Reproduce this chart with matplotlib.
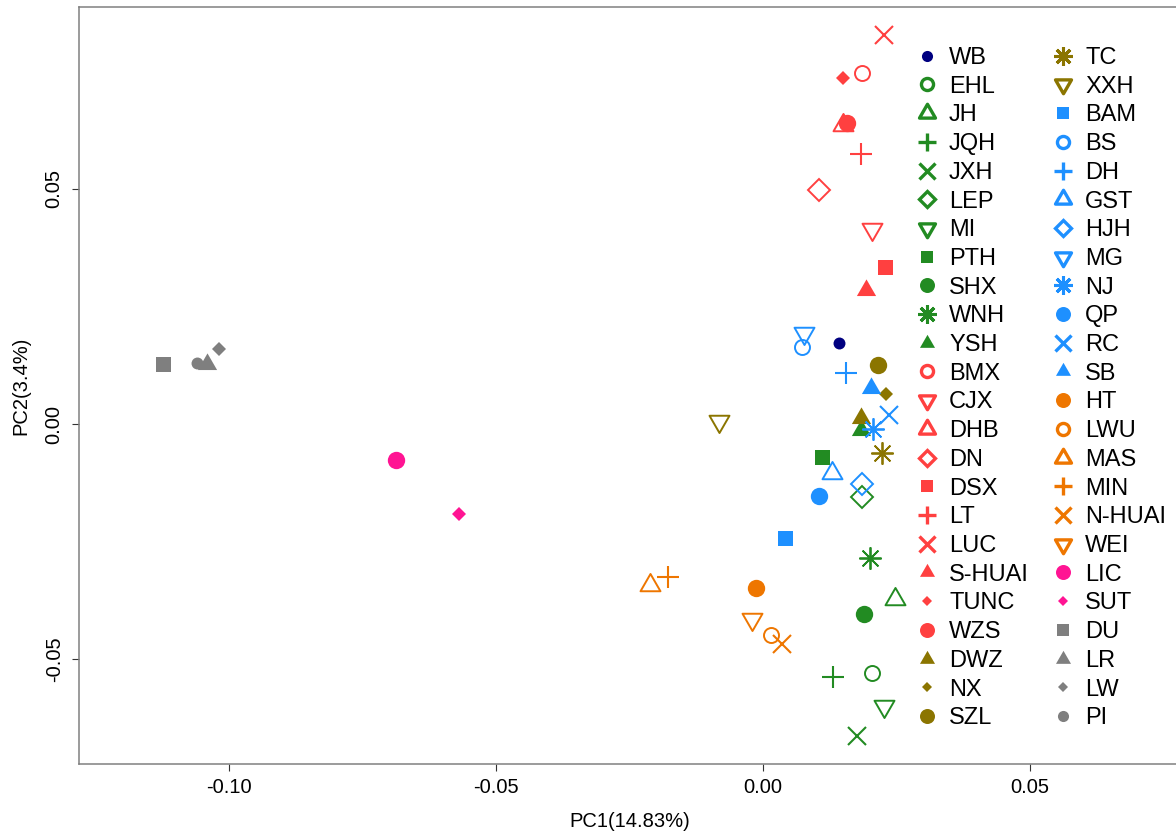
import matplotlib
matplotlib.use("Agg")
import matplotlib.pyplot as plt
from matplotlib.lines import Line2D
from matplotlib.path import Path

plt.rcParams['font.family'] = ['Liberation Sans', 'DejaVu Sans']

# PCA scores
samples = ['WB', 'EHL', 'JH', 'JQH', 'JXH', 'LEP', 'MI', 'PTH', 'SHX', 'WNH', 'YSH',
           'BMX', 'CJX', 'DHB', 'DN', 'DSX', 'LT', 'LUC', 'S-HUAI', 'TUNC', 'WZS',
           'DWZ', 'NX', 'SZL', 'TC', 'XXH',
           'BAM', 'BS', 'DH', 'GST', 'HJH', 'MG', 'NJ', 'QP', 'RC', 'SB',
           'HT', 'LWU', 'MAS', 'MIN', 'N-HUAI', 'WEI',
           'LIC', 'SUT', 'DU', 'LR', 'LW', 'PI']
pc1 = [0.0142, 0.0204, 0.0247, 0.0131, 0.0176, 0.0185, 0.0227, 0.0110, 0.0189, 0.0200, 0.0184,
       0.0185, 0.0204, 0.0150, 0.0105, 0.0228, 0.0184, 0.0227, 0.0193, 0.0150, 0.0157,
       0.0184, 0.0230, 0.0215, 0.0223, -0.0082,
       0.0041, 0.0073, 0.0155, 0.0129, 0.0185, 0.0077, 0.0206, 0.0105, 0.0236, 0.0202,
       -0.0013, 0.0015, -0.0212, -0.0178, 0.0036, -0.0021,
       -0.0687, -0.0569, -0.1124, -0.1041, -0.1019, -0.1060]
pc2 = [0.0172, -0.0529, -0.0372, -0.0537, -0.0662, -0.0155, -0.0599, -0.0070, -0.0403, -0.0285, -0.0013,
       0.0745, 0.0414, 0.0635, 0.0497, 0.0333, 0.0573, 0.0826, 0.0285, 0.0735, 0.0639,
       0.0013, 0.0064, 0.0125, -0.0062, 0.0006,
       -0.0242, 0.0163, 0.0108, -0.0104, -0.0127, 0.0193, -0.0011, -0.0153, 0.0019, 0.0076,
       -0.0348, -0.0448, -0.0342, -0.0325, -0.0467, -0.0414,
       -0.0076, -0.0191, 0.0127, 0.0127, 0.0159, 0.0130]

# colour and R-style symbol (pch) of every sample
navy, green, red, olive = '#000080', '#228B22', '#FF4040', '#8B7500'
blue, orange, pink, grey = '#1E90FF', '#EE7600', '#FF1493', '#7F7F7F'
colors = ([navy] + [green] * 10 + [red] * 10 + [olive] * 5 + [blue] * 10
          + [orange] * 6 + [pink] * 2 + [grey] * 4)
pchs = [16,
        1, 2, 3, 4, 5, 6, 15, 19, 8, 17,
        1, 6, 2, 5, 15, 3, 4, 17, 18, 19,
        17, 18, 19, 8, 6,
        15, 1, 3, 2, 5, 6, 8, 19, 4, 17,
        19, 1, 2, 3, 4, 6,
        19, 18, 15, 17, 18, 16]

tri_up = Path([(-1, -0.577), (1, -0.577), (0, 1.155), (-1, -0.577)], closed=True)
tri_dn = Path([(-1, 0.577), (1, 0.577), (0, -1.155), (-1, 0.577)], closed=True)

# (marker, size, open?, line width) for the plot and for the legend
pch_plot = {1: ('o', 10.8, True, 1.4), 2: (tri_up, 16.6, True, 1.4), 3: ('+', 16.5, False, 1.5),
            4: ('x', 12.7, False, 1.5), 5: ('D', 10.7, True, 1.4), 6: (tri_dn, 16.6, True, 1.4),
            8: ((8, 2, 0), 16, False, 1.3), 15: ('s', 10.8, False, 0), 16: ('o', 8.6, False, 0),
            17: (tri_up, 16, False, 0), 18: ('D', 7.5, False, 0), 19: ('o', 12.5, False, 0)}
pch_leg = {1: ('o', 8.7, True, 2.4), 2: (tri_up, 13.3, True, 2.4), 3: ('+', 13.4, False, 2.4),
           4: ('x', 11, False, 2.4), 5: ('D', 8.2, True, 2.4), 6: (tri_dn, 13.3, True, 2.4),
           8: ((8, 2, 0), 13.5, False, 2.2), 15: ('s', 8, False, 0), 16: ('o', 8, False, 0),
           17: (tri_up, 12.5, False, 0), 18: ('D', 5.4, False, 0), 19: ('o', 10.8, False, 0)}


def style(p, c, table):
    m, s, hollow, lw = table[p]
    return dict(marker=m, markersize=s, color=c, markeredgecolor=c,
                markerfacecolor='none' if hollow else c, markeredgewidth=lw, linestyle='none')


fig = plt.figure(figsize=(11.76, 8.34), dpi=100)
ax = fig.add_axes([79 / 1176, 70 / 834, 1101 / 1176, 757 / 834])

for name, x, y, c, p in zip(samples, pc1, pc2, colors, pchs):
    ax.plot([x], [y], **style(p, c, pch_plot))

ax.set_xlim(-0.12809, 0.07809)
ax.set_ylim(-0.07219, 0.08854)
ax.set_xticks([-0.10, -0.05, 0.0, 0.05])
ax.set_xticklabels(['-0.10', '-0.05', '0.00', '0.05'])
ax.set_yticks([-0.05, 0.0, 0.05])
ax.set_yticklabels(['-0.05', '0.00', '0.05'], rotation=90, va='center')
ax.tick_params(direction='out', length=5, width=0.8, colors='#333333', labelcolor='black',
               labelsize=14.5)
ax.tick_params(axis='x', pad=5)
ax.tick_params(axis='y', pad=6)
for side in ['left', 'bottom', 'top']:
    ax.spines[side].set_color('#808080')
    ax.spines[side].set_linewidth(1.1)
ax.spines['right'].set_visible(False)

ax.set_xlabel('PC1(14.83%)', fontsize=14.5, labelpad=11)
ax.set_ylabel('PC2(3.4%)', fontsize=14.5, labelpad=10)

handles = [Line2D([], [], **style(p, c, pch_leg)) for c, p in zip(colors, pchs)]
fig.legend(handles, samples, ncol=2, loc='upper left',
           bbox_to_anchor=(915 / 1176, 1 - 47 / 834), bbox_transform=fig.transFigure,
           frameon=False, fontsize=17, borderpad=0, borderaxespad=0,
           handlelength=1.0, handletextpad=0.445, columnspacing=0.93, labelspacing=0.284)

fig.savefig('out.png', dpi=100)
